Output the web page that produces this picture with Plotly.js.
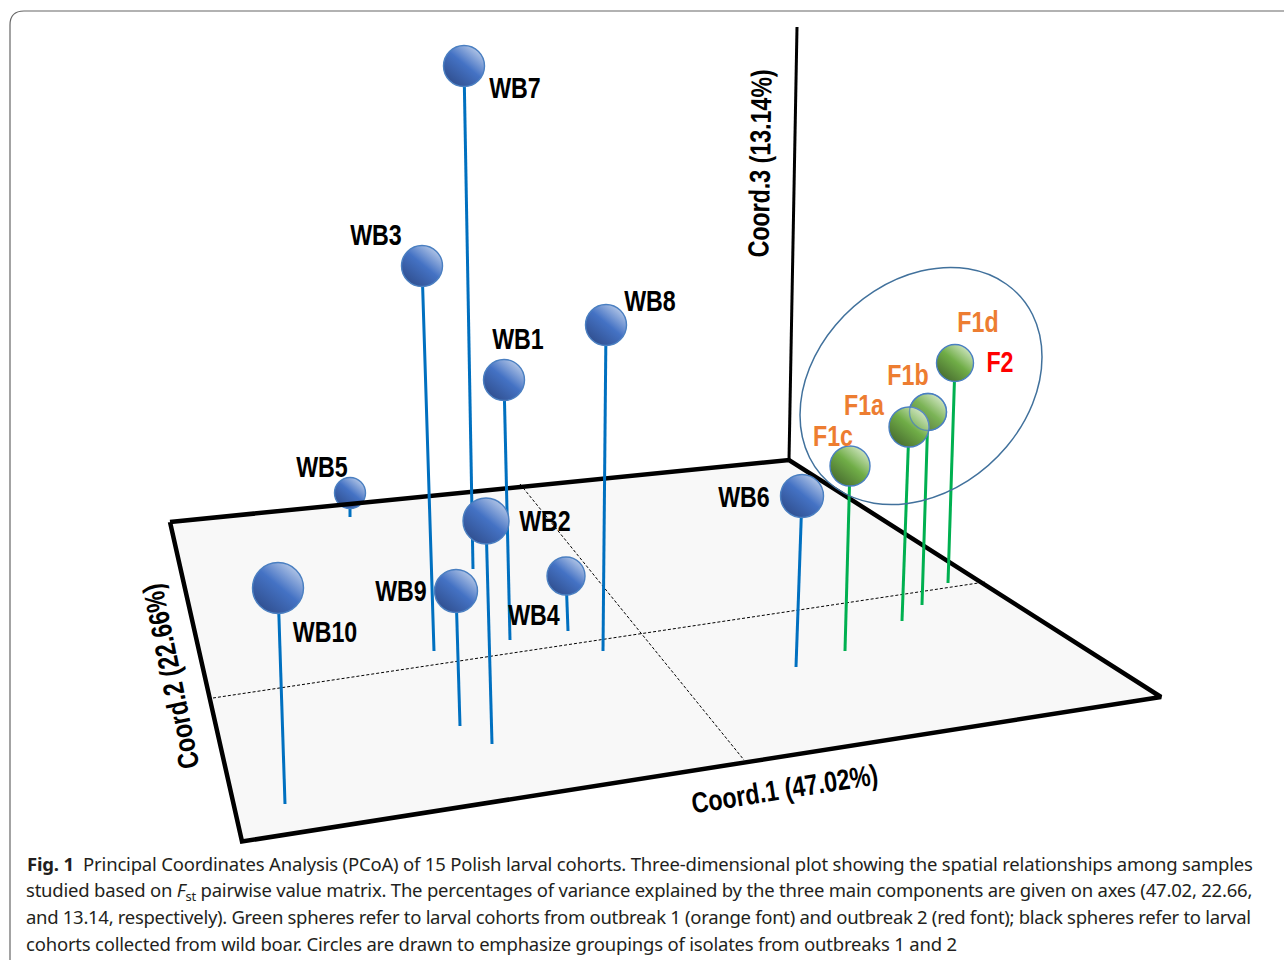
<!DOCTYPE html>
<html>
<head>
<meta charset="utf-8">
<script src="https://cdn.plot.ly/plotly-3.0.1.min.js"></script>
<style>
html,body{margin:0;padding:0;background:#fff;overflow:hidden}
#chart{width:1284px;height:960px}
</style>
</head>
<body>
<div id="chart"></div>
<script>
// Cohorts: sphere position, stem foot position, sphere diameter, label position
const wbNames = ["WB5","WB7","WB3","WB8","WB1","WB2","WB4","WB9","WB10","WB6"];
const wbTopX  = [350,464,422,606,504,486,566,456,278,802];
const wbTopY  = [493,66,266,325,380,521,576,591,588,496];
const wbBaseX = [350,473,434,603,510,492,568,460,285,796];
const wbBaseY = [517,569,651,651,640,744,631,726,804,667];
const wbDiam  = [31,41,41,41,41,46,38,43,51,43];
const wbLabelX = [322,515,376,650,518,545,534,401,325,744];
const wbLabelY = [470,91,238,304,342,524,618,594,635,500];

const fNames = ["F1c","F1b","F1a","F2"];
const fTopX  = [850,928,909,955];
const fTopY  = [466,412,427,363];
const fBaseX = [845,922,902,948];
const fBaseY = [651,605,621,583];
const fDiam  = [40,37,40,37];

const fLabels  = ["F1c","F1a","F1b","F1d","F2"];
const fLabelX  = [833,864,908,978,1000];
const fLabelY  = [439,408,378,325,365];
const fLabelColor = ["#ed7d31","#ed7d31","#ed7d31","#ed7d31","#ff0000"];

// Floor of the 3-D box, vertical axis and floor mid-lines
const floorX = [170,789,1161,242,170];
const floorY = [522,460,697,841.5,522];
const axis3X = [789,797];
const axis3Y = [460,27];
const midAX = [213,985];
const midAY = [698,582];
const midBX = [520,744];
const midBY = [484,760];

const captionLines = [
 "<b>Fig. 1</b>  Principal Coordinates Analysis (PCoA) of 15 Polish larval cohorts. Three-dimensional plot showing the spatial relationships among samples",
 "studied based on <i>F</i><sub>st</sub> pairwise value matrix. The percentages of variance explained by the three main components are given on axes (47.02, 22.66,",
 "and 13.14, respectively). Green spheres refer to larval cohorts from outbreak 1 (orange font) and outbreak 2 (red font); black spheres refer to larval",
 "cohorts collected from wild boar. Circles are drawn to emphasize groupings of isolates from outbreaks 1 and 2"
];
const captionY = [863,891,916,943];
const captionX = [25,24,24,24];
const captionWidth = [1226,1226,1225,931];

const LABEL_FONT = "'Liberation Sans',Arial,sans-serif";
const CAPTION_FONT = "'Noto Sans','Open Sans',sans-serif";
const BLUE_RAMP  = ["#b4c7e7","#4472c4","#2f4d8c"];
const GREEN_RAMP = ["#cfe5c0","#70ad47","#46692e"];
const LABEL_SQUEEZE = 0.8;

function stems(tx,ty,bx,by){
  const x=[],y=[];
  tx.forEach((v,i)=>{x.push(v,bx[i],null);y.push(ty[i],by[i],null);});
  return {x,y};
}
function line(x,y,color,width,dash){
  return {type:"scatter",mode:"lines",x,y,hoverinfo:"skip",
          line:{color,width,dash:dash||"solid",simplify:false}};
}
function spheres(x,y,d,ramp){
  return {type:"scatter",mode:"markers",x,y,hoverinfo:"skip",
    marker:{size:d,color:ramp[1],opacity:1,
      gradient:{type:"horizontal",color:ramp[2]},
      line:{color:"#4a7fc1",width:1.4}}};
}
function labels(text,x,y,color){
  return {type:"scatter",mode:"text",x,y,text,textposition:"middle center",hoverinfo:"skip",
    textfont:{family:LABEL_FONT,size:29,color,weight:700}};
}

const first = stems(wbTopX.slice(0,1),wbTopY.slice(0,1),wbBaseX.slice(0,1),wbBaseY.slice(0,1));
const wbS = stems(wbTopX.slice(1),wbTopY.slice(1),wbBaseX.slice(1),wbBaseY.slice(1));
const fS = stems(fTopX,fTopY,fBaseX,fBaseY);

const data = [
  {type:"scatter",mode:"lines",x:floorX,y:floorY,fill:"toself",fillcolor:"#f8f8f8",
   line:{width:0,color:"rgba(0,0,0,0)"},hoverinfo:"skip"},
  line(midAX,midAY,"#000",1,"3px,2px"),
  line(midBX,midBY,"#000",1,"3px,2px"),
  line(first.x,first.y,"#0070c0",3),
  spheres(wbTopX.slice(0,1),wbTopY.slice(0,1),wbDiam.slice(0,1),BLUE_RAMP),
  line(floorX,floorY,"#000",4.5),
  line(axis3X,axis3Y,"#000",3),
  line(wbS.x,wbS.y,"#0070c0",3),
  line(fS.x,fS.y,"#00b050",3),
  spheres(wbTopX.slice(1),wbTopY.slice(1),wbDiam.slice(1),BLUE_RAMP),
  spheres(fTopX,fTopY,fDiam,GREEN_RAMP),
  {type:"scatter",mode:"markers",x:fTopX.slice(1,2),y:fTopY.slice(1,2),hoverinfo:"skip",
   marker:{size:fDiam.slice(1,2),color:"rgba(255,255,255,0.12)",line:{color:"#4a7fc1",width:1.4}}},
  labels(wbNames,wbLabelX,wbLabelY,"#000"),
  labels(fLabels,fLabelX,fLabelY,fLabelColor)
];

const annotations = [
  {text:"Coord.3 (13.14%)",x:760,y:164,textangle:-89},
  {text:"Coord.2 (22.66%)",x:171,y:677,textangle:-101.5},
  {text:"Coord.1 (47.02%)",x:784,y:789,textangle:-9}
].map(a=>Object.assign(a,{xref:"x",yref:"y",showarrow:false,
   font:{family:LABEL_FONT,size:29,color:"#000",weight:700}}));

captionLines.forEach((t,i)=>annotations.push({
  text:t,x:captionX[i],y:captionY[i],xref:"x",yref:"y",xanchor:"left",yanchor:"middle",
  showarrow:false,align:"left",font:{family:CAPTION_FONT,size:18.5,color:"#231f20"}
}));

const layout = {
  width:1284,height:960,autosize:false,showlegend:false,
  margin:{l:0,r:0,t:0,b:0,pad:0},
  paper_bgcolor:"#fff",plot_bgcolor:"#fff",
  xaxis:{range:[0,1284],visible:false,fixedrange:true},
  yaxis:{range:[960,0],visible:false,fixedrange:true},
  annotations,
  shapes:[
    {type:"path",xref:"x",yref:"y",layer:"above",line:{color:"#41719c",width:1.5},
     path:"M1042,357 C1042,420.5 987.8,484.9 921,500.9 C854.2,516.9 800,478.5 800,415 C800,351.5 854.2,287.1 921,271.1 C987.8,255.1 1042,293.5 1042,357 Z"},
    {type:"path",xref:"x",yref:"y",layer:"below",line:{color:"#666",width:1.2},
     path:"M10,960 L10,25 Q10,11 24,11 L1284,11"}
  ]
};

Plotly.newPlot("chart",data,layout,{staticPlot:true,displayModeBar:false}).then(gd=>{
  // turn Plotly's two-stop marker gradients into the lit, diagonal shading of the spheres
  document.querySelectorAll("linearGradient").forEach(g=>{
    const stops=g.querySelectorAll("stop");
    if(stops.length<2) return;
    const txt=Array.from(stops).map(s=>s.getAttribute("stop-color")).join(" ");
    const isGreen=/112|70ad47|105/.test(txt) && !/68, ?114|4472c4/.test(txt);
    const ramp=isGreen?GREEN_RAMP:BLUE_RAMP;
    g.setAttribute("x1","0.85");g.setAttribute("y1","0.1");
    g.setAttribute("x2","0.15");g.setAttribute("y2","0.95");
    while(g.firstChild) g.removeChild(g.firstChild);
    [[0,ramp[0]],[0.45,ramp[1]],[1,ramp[2]]].forEach(([o,c])=>{
      const s=document.createElementNS("http://www.w3.org/2000/svg","stop");
      s.setAttribute("offset",o);s.setAttribute("stop-color",c);g.appendChild(s);
    });
  });
  // the reference uses a condensed bold face: narrow the labels to its widths
  const squeeze=t=>{
    const w=t.getComputedTextLength();
    t.setAttribute("textLength",(w*LABEL_SQUEEZE).toFixed(1));
    t.setAttribute("lengthAdjust","spacingAndGlyphs");
  };
  document.querySelectorAll(".textpoint text").forEach(squeeze);
  const annTexts=document.querySelectorAll(".annotation-text");
  annTexts.forEach((t,i)=>{
    if(i<3){ squeeze(t); return; }
    const w=t.getComputedTextLength(), n=t.textContent.length-1;
    t.style.letterSpacing=((captionWidth[i-3]-w)/n).toFixed(3)+"px";
  });
  // sharp corners on the floor outline; drop Plotly's empty placeholder texts
  document.querySelectorAll(".scatterlayer .js-line").forEach(p=>{
    p.style.strokeLinejoin="miter";
  });
  document.querySelectorAll("svg text").forEach(t=>{
    if(!t.textContent.trim()) t.remove();
  });
});
</script>
</body>
</html>
